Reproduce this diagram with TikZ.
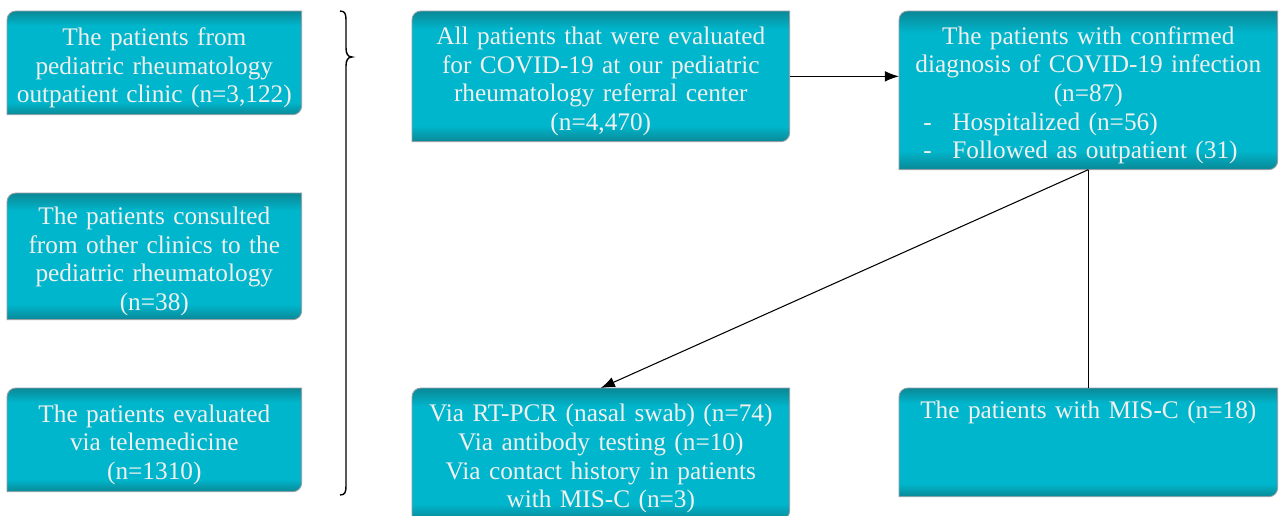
\documentclass[tikz,border=0pt]{standalone}
\usepackage{fontspec}
\setmainfont{Liberation Serif}
\usepackage{xcolor}
\usepackage{tikz}
\usetikzlibrary{arrows.meta, backgrounds}

\definecolor{tealdark}{RGB}{10,136,150}
\definecolor{teallight}{RGB}{0,182,204}
\definecolor{boxedge}{RGB}{150,160,165}
\definecolor{boxtext}{RGB}{240,240,238}
\pgfdeclareverticalshading{tealbox}{100bp}{color(0bp)=(tealdark); color(25bp)=(tealdark); color(31bp)=(teallight); color(68bp)=(teallight); color(75bp)=(tealdark); color(100bp)=(tealdark)}

\tikzset{
  flowbox/.style 2 args={anchor=north west, align=center, inner sep=0pt,
    minimum width=#1, text width=#1, minimum height=#2,
    text=boxtext, font=\fontsize{14.4pt}{16.3pt}\selectfont},
  link/.style={line width=0.6pt, draw=black},
  arrowtip/.style={-{Latex[length=8pt, width=6pt]}}
}

\begin{document}
\begin{tikzpicture}[x=0.02cm, y=-0.02cm]
        \useasboundingbox (0,0) rectangle (1279,515);
        % Sources of the evaluated patients (texts sit 5px below the box centre)
        \node[flowbox={5.88cm}{2.06cm}] (src1) at (7,16) {The patients from\\ pediatric rheumatology\\ outpatient clinic (n=3,122)};
        \node[flowbox={5.88cm}{2.52cm}] (src2) at (7,198) {The patients consulted\\ from other clinics to the\\ pediatric rheumatology\\ (n=38)};
        \node[flowbox={5.88cm}{2.06cm}] (src3) at (7,393) {The patients evaluated\\ via telemedicine\\ (n=1310)};
        % Main flow
        \node[flowbox={7.54cm}{2.6cm}] (all) at (412,16) {All patients that were evaluated\\ for COVID-19 at our pediatric\\ rheumatology referral center\\ (n=4,470)};
        \node[flowbox={7.56cm}{3.16cm}] (conf) at (899,16) {The patients with confirmed\\ diagnosis of COVID-19 infection\\ (n=87)\\
          \makebox[7.56cm][l]{\hspace*{0.48cm}\makebox[0.58cm][l]{-}Hospitalized (n=56)}\\
          \makebox[7.56cm][l]{\hspace*{0.48cm}\makebox[0.58cm][l]{-}Followed as outpatient (31)}};
        \node[flowbox={7.54cm}{2.62cm}] (test) at (412,393) {Via RT-PCR (nasal swab) (n=74)\\ Via antibody testing (n=10)\\ Via contact history in patients\\ with MIS-C (n=3)};
        \node[flowbox={7.56cm}{2.16cm}, text height=0.5cm, text depth=1.66cm] (misc) at (899,393) {The patients with MIS-C (n=18)};

        % Shaded boxes behind the texts, lifted 1mm
        \begin{scope}[on background layer]
          \foreach \n in {src1,src2,src3,all,conf,test,misc}
            \shadedraw[shading=tealbox, draw=boxedge, line width=0.5pt]
              ([yshift=1mm]\n.south west) -- ([yshift=1mm-5pt]\n.north west) arc[start angle=180, end angle=90, radius=5pt]
              -- ([yshift=1mm]\n.north east) -- ([yshift=1mm+5pt]\n.south east) arc[start angle=0, end angle=-90, radius=5pt] -- cycle;
        \end{scope}

        % Brace grouping the sources
        \draw[line width=0.8pt] (340,11) .. controls (345,11) and (346,14) .. (346,20) -- (346,48)
          .. controls (346,54) and (348,57) .. (352,57) .. controls (348,57) and (346,60) .. (346,66)
          -- (346,486) .. controls (346,492) and (345,495) .. (340,495);

        % Connectors
        \draw[link, arrowtip] ([yshift=1mm]all.east) -- ([yshift=1mm]all.east -| conf.west);
        \draw[link, arrowtip] ([yshift=1mm]conf.south) -- ([yshift=1mm]test.north);
        \draw[link] ([yshift=1mm]conf.south) -- ([yshift=1mm]misc.north);
      \end{tikzpicture}
\end{document}
